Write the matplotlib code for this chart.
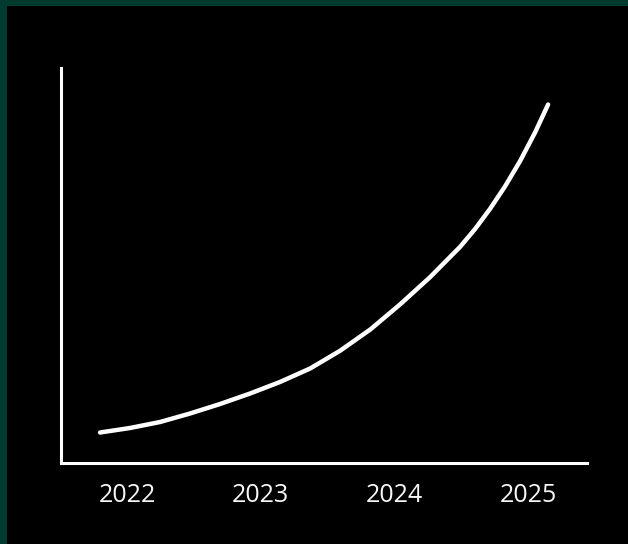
import matplotlib
matplotlib.use("Agg")
import matplotlib.pyplot as plt
from matplotlib.patches import Rectangle

# curve (y axis has no scale, 0-100 units)
anos = [2021.798, 2022.022, 2022.247, 2022.471, 2022.696, 2022.920, 2023.144,
        2023.369, 2023.593, 2023.818, 2024.042, 2024.266, 2024.491, 2024.603,
        2024.715, 2024.827, 2024.939, 2025.052, 2025.149]
valores = [7.72, 8.86, 10.38, 12.53, 14.94, 17.59, 20.51,
           23.92, 28.41, 33.77, 40.15, 47.04, 54.73, 59.24,
           64.35, 70.03, 76.41, 83.70, 90.76]
ticks = [2022, 2023, 2024, 2025]
tick_labels = ["2022", "2023", "2024", "2025"]

plt.rcParams["font.family"] = ["Open Sans", "DejaVu Sans"]

W, H = 628, 544
fig = plt.figure(figsize=(W / 100, H / 100), dpi=100, facecolor="#013a2f")
# black panel inside the green frame (frame only on top and left)
fig.patches.append(Rectangle((7 / W, 0), 1, (H - 6) / H, transform=fig.transFigure,
                             facecolor="black", edgecolor="none", zorder=-10))

ax = fig.add_axes([61 / W, 81 / H, (587 - 61) / W, 395 / H])
ax.set_facecolor("none")
ax.set_zorder(5)

ax.plot(anos, valores, color="white", lw=3.2, solid_capstyle="round",
        solid_joinstyle="round")

ax.set_xlim(2021.506, 2025.44)
ax.set_ylim(0, 100)
ax.set_xticks(ticks)
ax.set_xticklabels(tick_labels)
ax.set_yticks([])
ax.tick_params(axis="x", length=0, pad=14.5, labelsize=18, labelcolor="#f7f7f7")

for lado in ["top", "right"]:
    ax.spines[lado].set_visible(False)
for lado in ["left", "bottom"]:
    ax.spines[lado].set_color("white")
    ax.spines[lado].set_linewidth(2.2)

plt.savefig("out.png", dpi=100, facecolor=fig.get_facecolor())
plt.close()
